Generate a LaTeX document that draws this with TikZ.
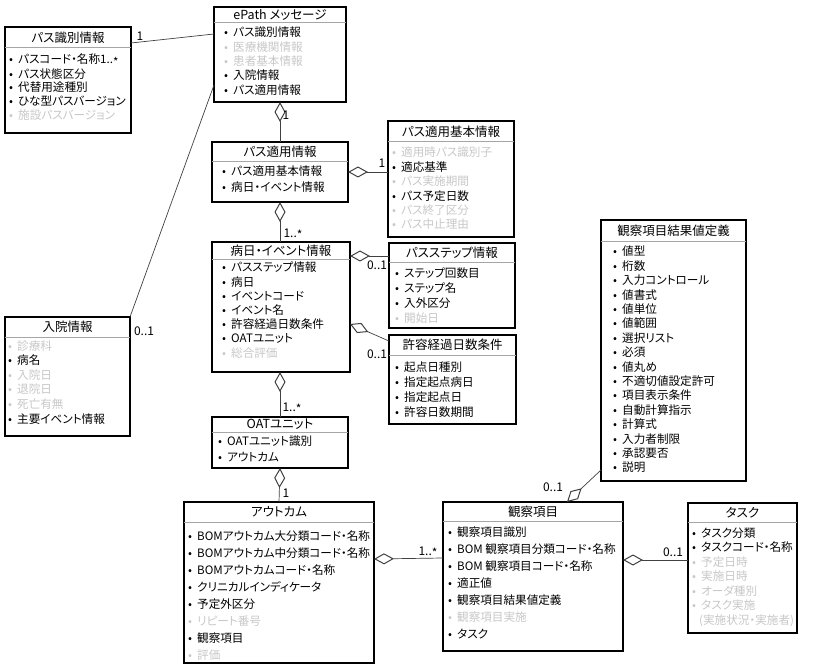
\documentclass[tikz,border=0pt]{standalone}
\usepackage{fontspec}
\setmainfont{Noto Sans CJK JP}[RawFeature=+palt]
\usetikzlibrary{arrows.meta}
\definecolor{lightgr}{RGB}{200,200,200}
\newcommand\bul{\makebox[14pt][c]{•}}
\newcommand\I[1]{\bul#1}
\newcommand\G[1]{\textcolor{lightgr}{\bul#1}}
\newcommand\lowstar{\raisebox{-0.35ex}{*}}
\newcommand\umlbox[7]{%
  \node[classbox, minimum width={#4-#2}, minimum height={#5-#3}, anchor=north west] (#1) at (#2,#3) {};
  \draw[sepline] (#2,#6) -- (#4,#6);
  \node[titletext] (#1-t) at ({(#2+#4)/2},{(#3+#6)/2}) {#7};
}
\tikzset{
  classbox/.style={draw=black, line width=1.2pt, inner sep=0pt, outer sep=0pt, fill=white},
  sepline/.style={draw=gray!70, line width=1pt},
  titletext/.style={font=\fontsize{12.5}{14}\selectfont, inner sep=0pt},
  items/.style={font={\fontsize{11.6}{#1}\selectfont}, inner sep=0pt, anchor=base west},
  items/.default=14.4,
  lbl/.style={font=\fontsize{12}{13}\selectfont, inner sep=0pt},
  conn/.style={draw=black!75, line width=0.7pt},
  agg/.style={conn, {Diamond[open,length=20pt,width=11pt,line width=1pt]}-},
}
\begin{document}
\begin{tikzpicture}[x=1pt,y=-1pt]
\useasboundingbox (0,0) rectangle (825,671);
% boxes
\umlbox{pid}{5}{27}{131}{133}{48}{パス識別情報}
\umlbox{epath}{214}{7}{346}{102}{23}{ePath メッセージ}
\umlbox{pathapp}{212}{142}{348}{202}{162}{パス適用情報}
\umlbox{pathbase}{388}{121}{514}{237}{142}{パス適用基本情報}
\umlbox{byo}{212}{242}{350}{372}{260}{病日・イベント情報}
\umlbox{step}{389}{243}{515}{328}{263}{パスステップ情報}
\umlbox{kyoyo}{389}{335}{516}{424}{355}{許容経過日数条件}
\umlbox{oat}{212}{417}{348}{468}{432}{OATユニット}
\umlbox{nyuin}{5}{317}{130}{436}{337}{入院情報}
\umlbox{kekka}{601}{220}{746}{481}{242}{観察項目結果値定義}
\umlbox{outcome}{184}{502}{374}{663}{522}{アウトカム}
\umlbox{kansatsu}{443}{502}{623}{651}{521}{観察項目}
\umlbox{task}{688}{503}{797}{633}{522}{タスク}

% items
\node[items=14] (pid-i) at (4,64) {\begin{tabular}[t]{@{}l@{}}\I{パスコード・名称1..\lowstar}\\ \I{パス状態区分}\\ \I{代替用途種別}\\ \I{ひな型パスバージョン}\\ \G{施設パスバージョン}\end{tabular}};
\node[items=14.3] (epath-i) at (219,37) {\begin{tabular}[t]{@{}l@{}}\I{パス識別情報}\\ \G{医療機関情報}\\ \G{患者基本情報}\\ \I{入院情報}\\ \I{パス適用情報}\end{tabular}};
\node[items=16] (pathapp-i) at (217,176) {\begin{tabular}[t]{@{}l@{}}\I{パス適用基本情報}\\ \I{病日・イベント情報}\end{tabular}};
\node[items=14.4] (pathbase-i) at (387,157) {\begin{tabular}[t]{@{}l@{}}\G{適用時パス識別子}\\ \I{適応基準}\\ \G{パス実施期間}\\ \I{パス予定日数}\\ \G{パス終了区分}\\ \G{パス中止理由}\end{tabular}};
\node[items=14.2] (byo-i) at (217,272) {\begin{tabular}[t]{@{}l@{}}\I{パスステップ情報}\\ \I{病日}\\ \I{イベントコード}\\ \I{イベント名}\\ \I{許容経過日数条件}\\ \I{OATユニット}\\ \G{総合評価}\end{tabular}};
\node[items=15.3] (step-i) at (390,277) {\begin{tabular}[t]{@{}l@{}}\I{ステップ回数目}\\ \I{ステップ名}\\ \I{入外区分}\\ \G{開始日}\end{tabular}};
\node[items=15] (kyoyo-i) at (390,371) {\begin{tabular}[t]{@{}l@{}}\I{起点日種別}\\ \I{指定起点病日}\\ \I{指定起点日}\\ \I{許容日数期間}\end{tabular}};
\node[items=16] (oat-i) at (213,445) {\begin{tabular}[t]{@{}l@{}}\I{OATユニット識別}\\ \I{アウトカム}\end{tabular}};
\node[items=14.6] (nyuin-i) at (3,350) {\begin{tabular}[t]{@{}l@{}}\G{診療科}\\ \I{病名}\\ \G{入院日}\\ \G{退院日}\\ \G{死亡有無}\\ \I{主要イベント情報}\end{tabular}};
\node[items=14.4] (kekka-i) at (608,256) {\begin{tabular}[t]{@{}l@{}}\I{値型}\\ \I{桁数}\\ \I{入力コントロール}\\ \I{値書式}\\ \I{値単位}\\ \I{値範囲}\\ \I{選択リスト}\\ \I{必須}\\ \I{値丸め}\\ \I{不適切値設定許可}\\ \I{項目表示条件}\\ \I{自動計算指示}\\ \I{計算式}\\ \I{入力者制限}\\ \I{承認要否}\\ \I{説明}\end{tabular}};
\node[items=17] (outcome-i) at (183,540) {\begin{tabular}[t]{@{}l@{}}\I{BOMアウトカム大分類コード・名称}\\ \I{BOMアウトカム中分類コード・名称}\\ \I{BOMアウトカムコード・名称}\\ \I{クリニカルインディケータ}\\ \I{予定外区分}\\ \G{リピート番号}\\ \I{観察項目}\\ \G{評価}\end{tabular}};
\node[items=17] (kansatsu-i) at (443,536) {\begin{tabular}[t]{@{}l@{}}\I{観察項目識別}\\ \I{BOM 観察項目分類コード・名称}\\ \I{BOM 観察項目コード・名称}\\ \I{適正値}\\ \I{観察項目結果値定義}\\ \G{観察項目実施}\\ \I{タスク}\end{tabular}};
\node[items=14.5] (task-i) at (687,537) {\begin{tabular}[t]{@{}l@{}}\I{タスク分類}\\ \I{タスクコード・名称}\\ \G{予定日時}\\ \G{実施日時}\\ \G{オーダ種別}\\ \G{タスク実施}\\ \textcolor{lightgr}{\hspace{12pt}(実施状況・実施者)}\end{tabular}};

% connectors
\draw[conn] (pid.east |- 0,43) -- (epath.west |- 0,34);
\draw[conn] (nyuin.north east) -- (epath.west |- 0,85);
\draw[agg] (epath.south) -- (pathapp.north);
\draw[agg] (pathapp.east |- 0,172) -- (pathbase.west |- 0,172);
\draw[agg] (pathapp.south) -- (byo.north -| pathapp.south);
\draw[agg] (byo.east |- 0,256) -- (step.west |- 0,256);
\draw[agg] (byo.east |- 0,324) -- (kyoyo.west |- 0,341);
\draw[agg] (byo.south -| oat.north) -- (oat.north);
\draw[agg] (oat.south) -- (outcome.north);
\draw[agg] (outcome.east |- 0,559) -- (kansatsu.west |- 0,558);
\draw[agg] (kansatsu.east |- 0,560) -- (task.west |- 0,560);
\draw[agg] (kansatsu.north -| 567,0) -- (kekka.west |- 0,470);

% multiplicity labels
\node[lbl] (m1) at (140,36) {1};
\node[lbl] (m2) at (144,331) {0..1};
\node[lbl] (m3) at (286,115) {1};
\node[lbl] (m4) at (382,163) {1};
\node[lbl] (m5) at (293,234) {1..\lowstar};
\node[lbl] (m6) at (377,265) {0..1};
\node[lbl] (m7) at (377,354) {0..1};
\node[lbl] (m8) at (292,408) {1..\lowstar};
\node[lbl] (m9) at (286,493) {1};
\node[lbl] (m10) at (428,552) {1..\lowstar};
\node[lbl] (m11) at (673,552) {0..1};
\node[lbl] (m12) at (553,487) {0..1};
\end{tikzpicture}
\end{document}
